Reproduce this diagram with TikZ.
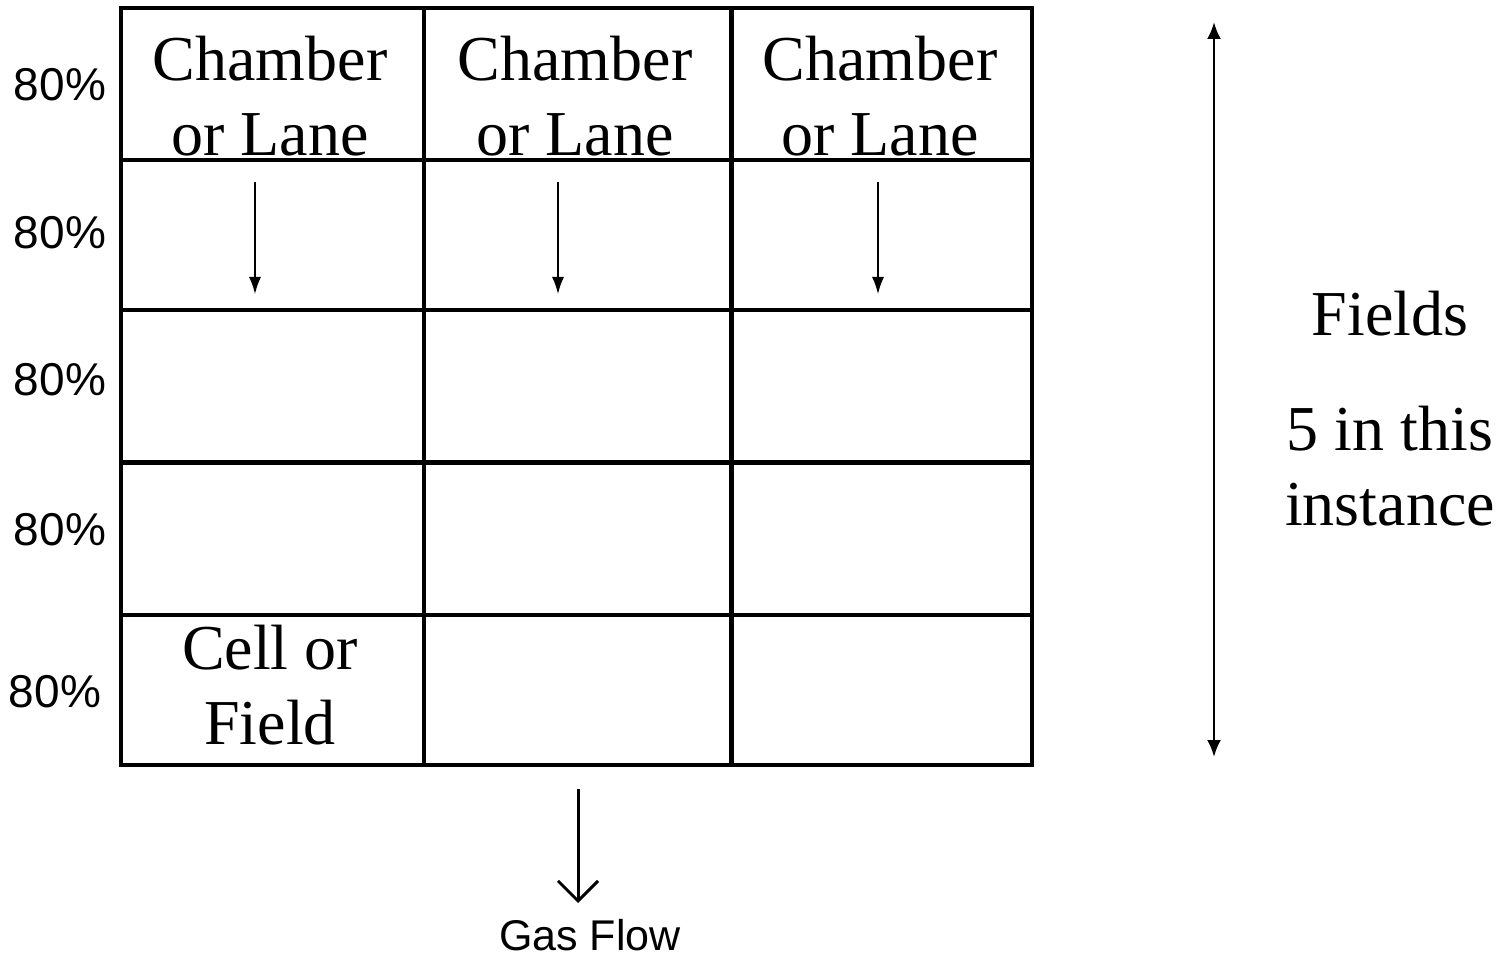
\documentclass[tikz,border=0pt]{standalone}
\usepackage{fontspec}
\setmainfont{Liberation Serif}
\newfontfamily\arialfont{Liberation Sans}
\usetikzlibrary{arrows.meta}
\begin{document}
\begin{tikzpicture}[x=1pt,y=-1pt,
  bigtext/.style={font=\fontsize{64}{75}\selectfont, align=center, inner sep=0pt},
  pct/.style={font=\arialfont\fontsize{46}{50}\selectfont, inner sep=0pt},
  thin grid/.style={line width=3.5pt},
  thick grid/.style={line width=5pt},
  cellarrow/.style={line width=1.5pt, -{Latex[length=17pt,width=12pt]}},
  fieldarrow/.style={line width=2.5pt, {Latex[length=17pt,width=14pt]}-{Latex[length=17pt,width=14pt]}},
  flowarrow/.style={line width=3pt, -{Straight Barb[length=20pt,width=40pt,line width=3pt]}}]
\useasboundingbox (0,0) rectangle (1506,957);
\fill[white] (0,0) rectangle (1506,957);
% grid
\draw[thin grid] (121,160) -- (1032,160);
\draw[thin grid] (121,310) -- (1032,310);
\draw[thick grid] (121,462) -- (1032,462);
\draw[thin grid] (121,615) -- (1032,615);
\draw[thin grid] (424,8) -- (424,765);
\draw[thick grid] (731,8) -- (731,765);
\draw[line width=4.5pt] (121,8) rectangle (1032,765);
% header labels
\node[bigtext] (ch1) at (270,96) {Chamber\\or Lane};
\node[bigtext] (ch2) at (575,96) {Chamber\\or Lane};
\node[bigtext] (ch3) at (880,96) {Chamber\\or Lane};
\node[bigtext] (cell) at (270,685) {Cell or\\Field};
% percentage labels
\node[pct] (p1) at (60,85) {80\%};
\node[pct] (p2) at (60,233) {80\%};
\node[pct] (p3) at (60,380) {80\%};
\node[pct] (p4) at (60,530) {80\%};
\node[pct] (p5) at (55,692) {80\%};
% cell arrows
\coordinate (a1s) at (255,182); \coordinate (a1e) at (255,294);
\coordinate (a2s) at (558,182); \coordinate (a2e) at (558,294);
\coordinate (a3s) at (878,182); \coordinate (a3e) at (878,294);
\draw[cellarrow] (a1s) -- (a1e);
\draw[cellarrow] (a2s) -- (a2e);
\draw[cellarrow] (a3s) -- (a3e);
% fields arrow
\coordinate (ft) at (1214,22); \coordinate (fb) at (1214,757);
\draw[fieldarrow] (ft) -- (fb);
\node[bigtext, anchor=base] (fields) at (1390,335) {Fields};
\node[bigtext, anchor=base] (five) at (1390,450) {5 in this};
\node[bigtext, anchor=base] (inst) at (1390,525) {instance};
% gas flow
\node[font=\arialfont\fontsize{43}{48}\selectfont, inner sep=0pt, anchor=base] (gas) at (590,950) {Gas Flow};
\coordinate (gs) at (578,789);
\coordinate (ge) at (578,903);
\draw[flowarrow] (gs) -- (ge);
\end{tikzpicture}
\end{document}
